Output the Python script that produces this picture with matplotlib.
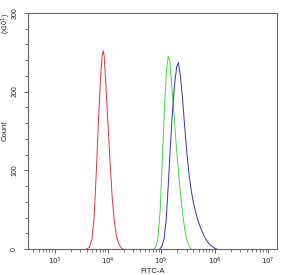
import numpy as np
import matplotlib
matplotlib.use('Agg')
import matplotlib.pyplot as plt
from matplotlib.ticker import FixedLocator, LogLocator, NullFormatter

plt.rcParams['font.family'] = ['Liberation Sans', 'DejaVu Sans']

# histogram outlines: log10(FITC-A) and counts (x10^1)
red_log = [3.60, 3.65, 3.70, 3.74, 3.78, 3.82, 3.86, 3.89, 3.91, 3.93, 3.96,
           4.00, 4.04, 4.08, 4.12, 4.16, 4.20, 4.24, 4.28]
red_cnt = [0, 2, 12, 40, 95, 160, 215, 245, 252, 245, 210,
           160, 110, 65, 35, 16, 7, 2, 0]

green_log = [4.86, 4.90, 4.94, 4.98, 5.02, 5.06, 5.10, 5.13, 5.16, 5.20, 5.24,
             5.28, 5.32, 5.36, 5.40, 5.44, 5.48, 5.52, 5.56]
green_cnt = [0, 3, 15, 50, 115, 180, 228, 245, 238, 205, 170,
             132, 100, 70, 45, 25, 12, 4, 0]

blue_log = [4.97, 5.01, 5.05, 5.09, 5.13, 5.17, 5.21, 5.25, 5.29, 5.32, 5.36,
            5.40, 5.44, 5.48, 5.52, 5.56, 5.60, 5.64, 5.68, 5.72, 5.76, 5.80,
            5.84, 5.88, 5.92, 5.96, 6.00, 6.04]
blue_cnt = [0, 3, 12, 35, 80, 130, 175, 210, 232, 237, 220,
            190, 155, 122, 95, 75, 60, 48, 38, 30, 23, 17,
            12, 8, 5, 3, 1, 0]

x_decades = [3, 4, 5, 6, 7]
y_major = [0, 100, 200, 300]

fig = plt.figure(figsize=(2.85, 2.75), dpi=100)
ax = fig.add_axes([0.098, 0.0945, 0.874, 0.8585])

for lg, cnt, col in [(red_log, red_cnt, '#e8323c'),
                     (green_log, green_cnt, '#3cdc3c'),
                     (blue_log, blue_cnt, '#3232c8')]:
    ax.plot(10 ** np.array(lg), cnt, color=col, lw=0.7)

ax.set_xscale('log')
ax.set_xlim(10 ** 2.5, 10 ** 7.17)
ax.set_ylim(0, 300)

ax.xaxis.set_major_locator(FixedLocator([10.0 ** d for d in x_decades]))
ax.set_xticklabels(['$10^{%d}$' % d for d in x_decades])
ax.xaxis.set_minor_locator(LogLocator(base=10, subs=np.arange(2, 10)))
ax.xaxis.set_minor_formatter(NullFormatter())

ax.set_yticks(y_major)
ax.set_yticks(np.arange(0, 301, 20), minor=True)
ax.set_yticklabels([str(v) for v in y_major], rotation=90, va='center')

ax.tick_params(axis='both', which='major', length=3, width=0.6,
               color='#444444', labelsize=5, labelcolor='#222222')
ax.tick_params(axis='x', which='major', pad=1.5)
ax.tick_params(axis='y', which='major', pad=4)
ax.tick_params(axis='both', which='minor', length=2, width=0.5, color='#444444')

for s in ax.spines.values():
    s.set_color('#666666')
    s.set_linewidth(0.8)

ax.set_xlabel('FITC-A', fontsize=5.5, labelpad=1, color='#222222')
ax.set_ylabel('Count', fontsize=5.5, color='#222222')
ax.yaxis.set_label_coords(-0.078, 0.5)
fig.text(0.021, 0.916, '(x10$^{1}$)', rotation=90, fontsize=5, ha='center',
         va='center', color='#222222')

fig.savefig('out.png', dpi=100)
